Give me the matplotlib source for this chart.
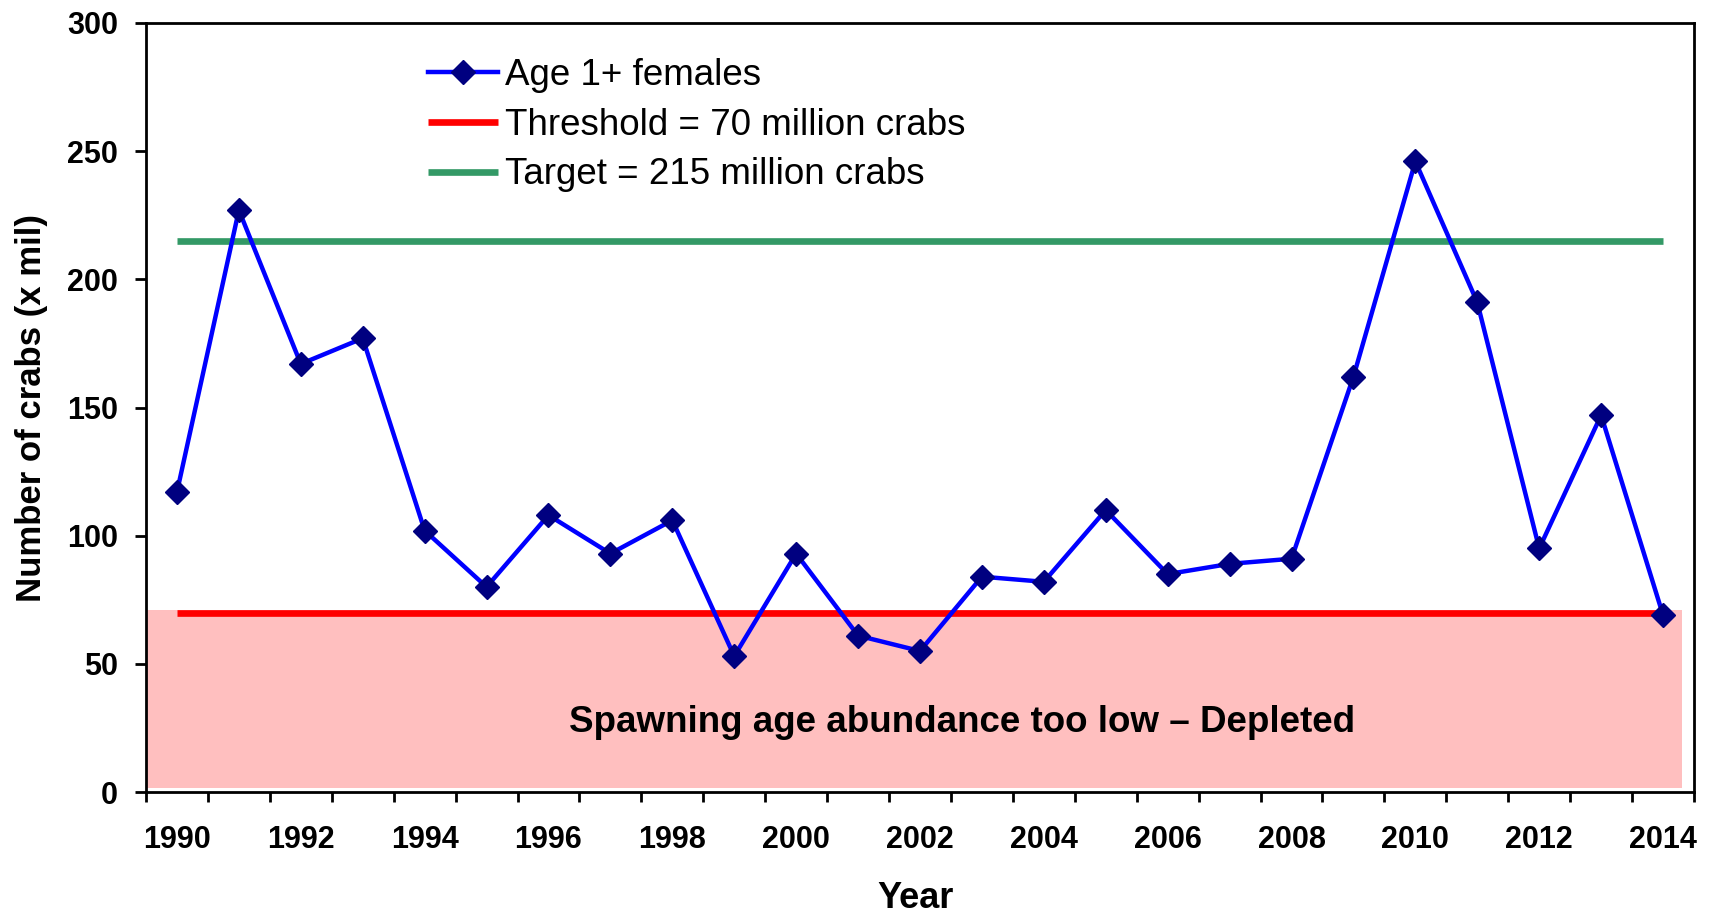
import matplotlib
matplotlib.use("Agg")
import matplotlib.pyplot as plt
import numpy as np

years = list(range(1990, 2015))
females = [117, 227, 167, 177, 102, 80, 108, 93, 106, 53, 93, 61, 55, 84, 82,
           110, 85, 89, 91, 162, 246, 191, 95, 147, 69]
threshold = 70
target = 215
depleted_top = 71
depleted_bottom = 1.5
tick_labels = [str(y) for y in years[::2]]

plt.rcParams['font.family'] = ['Liberation Sans', 'DejaVu Sans']

fig = plt.figure(figsize=(17.15, 9.16), dpi=100)
ax = fig.add_axes([146/1715, 1-792/916, (1694-146)/1715, (792-23)/916])

n = len(years)
idx = np.arange(n)

# depleted zone
ax.fill_between([-0.5, 24.3], depleted_bottom, depleted_top, color='#FFBFBF', lw=0, zorder=1)

ax.plot(idx, [threshold]*n, color='#FF0000', lw=4.8, solid_capstyle='butt', zorder=2,
        label='Threshold = 70 million crabs')
ax.plot(idx, [target]*n, color='#339966', lw=4.8, solid_capstyle='butt', zorder=2,
        label='Target = 215 million crabs')
l1, = ax.plot(idx, females, color='#0000FF', lw=3.2, marker='D', ms=12.5,
              mfc='#000080', mec='#000080', zorder=3, label='Age 1+ females')

ax.text(12.68, 27, 'Spawning age abundance too low \u2013 Depleted', ha='center', va='center',
        fontsize=26.5, fontweight='bold', zorder=4)

ax.set_xlim(-0.5, n - 0.5)
ax.set_ylim(0, 300)
ax.set_yticks(np.arange(0, 301, 50))
ax.set_xticks(np.arange(-0.5, n, 1.0))
ax.set_xticklabels([])
ax.set_xticks(idx[::2], minor=True)
ax.set_xticklabels(tick_labels, minor=True)
ax.tick_params(axis='x', which='major', direction='out', length=7.5, width=2)
ax.tick_params(axis='x', which='minor', length=0, pad=24, labelsize=22)
ax.tick_params(axis='y', direction='out', length=8, width=2, pad=12, labelsize=22)
for lab in ax.get_xticklabels(minor=True) + ax.get_yticklabels():
    lab.set_fontweight('bold')
for s in ax.spines.values():
    s.set_linewidth(2)

ax.set_ylabel('Number of crabs (x mil)', fontsize=25, fontweight='bold')
ax.yaxis.set_label_coords(-0.0634, 0.5)
fig.text(916/1715, 1-899/916, 'Year', ha='center', va='center', fontsize=26, fontweight='bold')

handles, labels = ax.get_legend_handles_labels()
order = [2, 0, 1]
leg = ax.legend([handles[i] for i in order], [labels[i] for i in order],
                loc='upper left', bbox_to_anchor=(428/1715, 1-58/916),
                bbox_transform=fig.transFigure, frameon=False, fontsize=26.5,
                handlelength=1.9, handletextpad=0.2, labelspacing=0.4,
                borderpad=0, borderaxespad=0)

fig.savefig('out.png', dpi=100)
